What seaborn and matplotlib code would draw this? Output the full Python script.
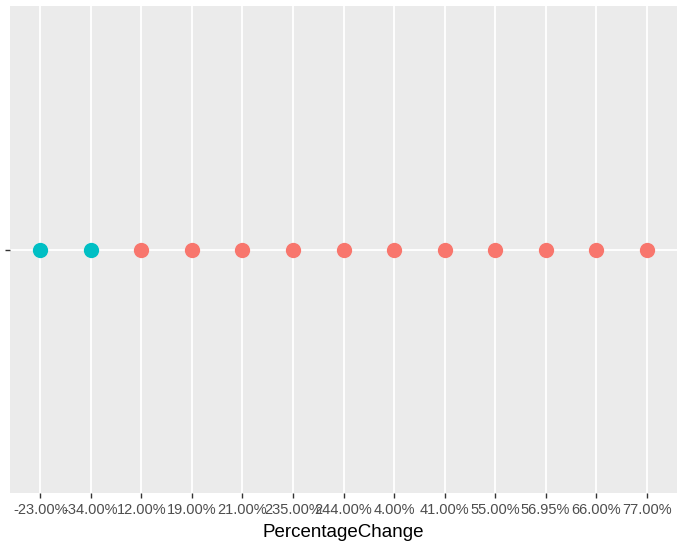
import matplotlib
matplotlib.use("Agg")
import matplotlib.pyplot as plt
import seaborn as sns
import pandas as pd

# dane
labels = ["-23.00%", "-34.00%", "12.00%", "19.00%", "21.00%", "235.00%", "244.00%",
          "4.00%", "41.00%", "55.00%", "56.95%", "66.00%", "77.00%"]
negative = [True, True, False, False, False, False, False,
            False, False, False, False, False, False]

df = pd.DataFrame({"PercentageChange": labels, "y": [""] * len(labels),
                   "neg": ["neg" if n else "pos" for n in negative]})

sns.set_style("darkgrid", {"axes.facecolor": "#EBEBEB", "grid.color": "white"})
plt.rcParams["font.family"] = ["Liberation Sans", "DejaVu Sans"]

fig = plt.figure(figsize=(6.9, 5.49), dpi=100)
ax = fig.add_axes([10 / 690, 56 / 549, 667 / 690, 487 / 549])

sns.stripplot(data=df, x="PercentageChange", y="y", hue="neg", order=labels,
              palette={"neg": "#00BFC4", "pos": "#F8766D"}, jitter=False,
              size=11, legend=False, ax=ax, zorder=3)

ax.set_xlim(-0.6, len(labels) - 0.4)
ax.set_ylim(0.6, -0.6)
ax.grid(True, color="white", linewidth=1.3)
for s in ax.spines.values():
    s.set_visible(False)
ax.tick_params(axis="both", length=3.5, width=1, color="#333333", labelcolor="#4D4D4D",
               labelsize=10.5, pad=4, bottom=True, left=True)
ax.set_ylabel("")
ax.set_xlabel("PercentageChange", fontsize=13.5, color="black", labelpad=5)

fig.savefig("out.png", dpi=100)
